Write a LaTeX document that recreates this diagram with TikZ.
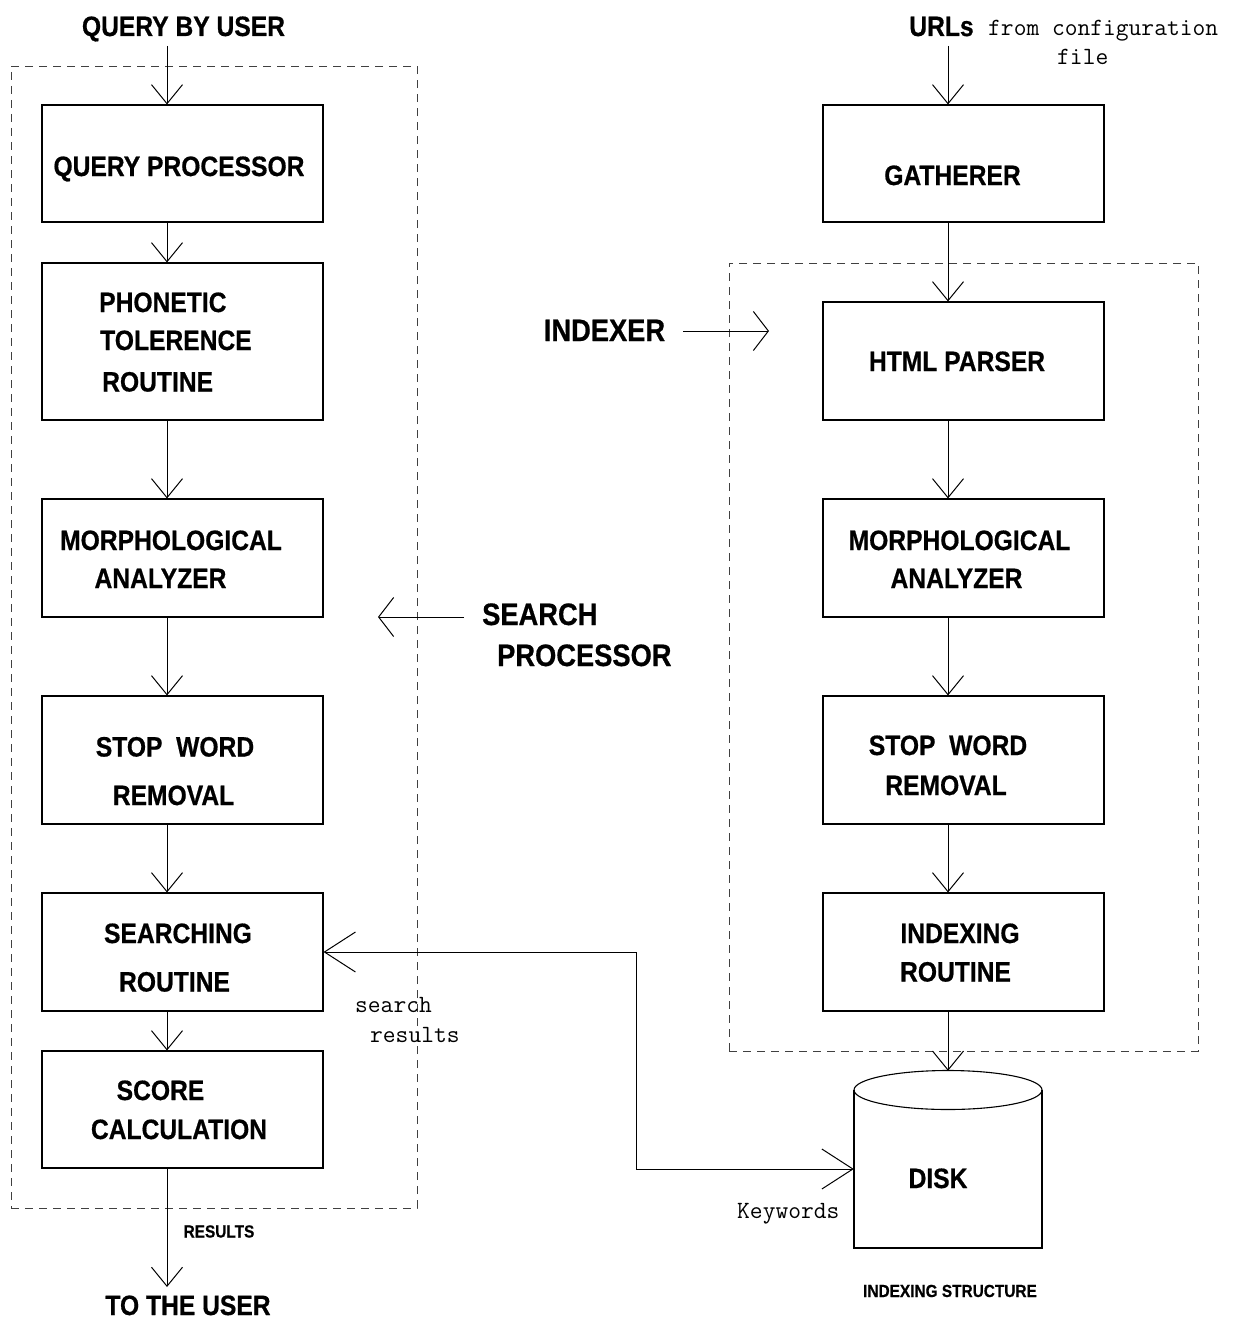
\documentclass[tikz,border=0pt]{standalone}
\usepackage{fontspec}
\usetikzlibrary{arrows.meta}
\newfontfamily\lblfam[FakeStretch=0.88,FakeBold=0.6]{Liberation Sans Bold}
\newcommand{\xLab}{\lblfam\fontsize{28}{34}\selectfont}
\newcommand{\xBig}{\lblfam\fontsize{31}{36}\selectfont}
\newcommand{\xSmall}{\lblfam\fontsize{17.5}{21}\selectfont}
\newcommand{\xMono}{\ttfamily\fontsize{24.8}{30}\selectfont}
\tikzset{
  box/.style={draw, line width=1.1pt, inner sep=0pt, minimum width=281pt},
  grp/.style={draw=black!75, line width=0.9pt, dash pattern=on 8pt off 6pt, inner sep=0pt},
  txt/.style={inner sep=0pt, anchor=base, font=\xLab},
  txtw/.style={inner sep=0pt, anchor=base west, font=\xLab},
  conn/.style={line width=1pt},
  vtip/.style={conn, -{Straight Barb[length=19pt,width=31pt]}},
  htip/.style={conn, -{Straight Barb[length=31pt,width=40pt]}},
  stip/.style={conn, -{Straight Barb[length=15pt,width=39pt]}},
}
\begin{document}
\begin{tikzpicture}[x=1pt,y=-1pt]
\useasboundingbox (0,0) rectangle (1244,1322);
\fill[white] (0,0) rectangle (1244,1322);

% group frames
\node[grp, minimum width=406pt, minimum height=1142pt] (searchgrp) at (214,637) {};
\node[grp, minimum width=469pt, minimum height=788pt] (indexgrp) at (963.5,657) {};

% column axes
\coordinate (colL) at (167,0);
\coordinate (colR) at (948,0);

% left column boxes
\node[box, minimum height=117pt] (qp) at (182.5,163.5) {};
\node[box, minimum height=157pt] (ph) at (182.5,341.5) {};
\node[box, minimum height=118pt] (ml) at (182.5,558) {};
\node[box, minimum height=128pt] (sl) at (182.5,760) {};
\node[box, minimum height=118pt] (sr) at (182.5,952) {};
\node[box, minimum height=117pt] (sc) at (182.5,1109.5) {};

% right column boxes
\node[box, minimum height=117pt] (ga) at (963.5,163.5) {};
\node[box, minimum height=118pt] (hp) at (963.5,361) {};
\node[box, minimum height=118pt] (mr) at (963.5,558) {};
\node[box, minimum height=128pt] (sw) at (963.5,760) {};
\node[box, minimum height=118pt] (ir) at (963.5,952) {};

% disk
\node[inner sep=0pt, minimum width=188pt, minimum height=177pt] (disk) at (948,1159.5) {};
\draw[line width=1.1pt] (854,1090) -- (854,1248) -- (1042,1248) -- (1042,1090);
\draw[line width=1.1pt] (948,1090) ellipse [x radius=94pt, y radius=19.5pt];

% box texts, left
\node[txt] (tqp) at (179,176) {QUERY PROCESSOR};
\node[txtw] (tph1) at (99,312) {PHONETIC};
\node[txtw] (tph2) at (100,350) {TOLERENCE};
\node[txtw] (tph3) at (102,391.5) {ROUTINE};
\node[txt] (tml1) at (171,550) {MORPHOLOGICAL};
\node[txt] (tml2) at (160.5,588) {ANALYZER};
\node[txt] (tsl1) at (175,756.5) {STOP\ \ WORD};
\node[txt] (tsl2) at (173.5,805) {REMOVAL};
\node[txt] (tsr1) at (178,943) {SEARCHING};
\node[txt] (tsr2) at (174.5,991.5) {ROUTINE};
\node[txt] (tsc1) at (160.5,1100) {SCORE};
\node[txt] (tsc2) at (179,1139) {CALCULATION};

% box texts, right
\node[txt] (tga) at (952.5,185) {GATHERER};
\node[txt] (thp) at (957,371) {HTML PARSER};
\node[txt] (tmr1) at (959.5,550) {MORPHOLOGICAL};
\node[txt] (tmr2) at (956.5,588) {ANALYZER};
\node[txt] (tsw1) at (948,755) {STOP\ \ WORD};
\node[txt] (tsw2) at (946,795) {REMOVAL};
\node[txt] (tir1) at (960,943) {INDEXING};
\node[txt] (tir2) at (955.5,981.5) {ROUTINE};
\node[txt] (tdisk) at (938,1188) {DISK};

% outer labels
\node[txt] (tqbu) at (183.5,36) {QUERY BY USER};
\node[txt] (ttu) at (188,1315) {TO THE USER};
\node[txt, font=\xSmall] (tres) at (219,1237.5) {RESULTS};
\node[txt, font=\xSmall] (tist) at (950,1297) {INDEXING STRUCTURE};
\node[txt] (turl) at (941.5,36) {URLs};
\node[inner sep=0pt, anchor=base west, font=\xMono] (tcfg1) at (988,36) {from configuration};
\node[inner sep=0pt, anchor=base west, font=\xMono] (tcfg2) at (1057,65) {file};
\node[txt, font=\xBig] (tidx) at (604.5,341) {INDEXER};
\node[txtw, font=\xBig] (tsp1) at (482,625) {SEARCH};
\node[txtw, font=\xBig] (tsp2) at (497,666) {PROCESSOR};
\node[inner sep=0pt, anchor=base west, font=\xMono] (tsrch1) at (355,1012) {search};
\node[inner sep=0pt, anchor=base west, font=\xMono] (tsrch2) at (370,1042) {results};
\node[inner sep=0pt, anchor=base west, font=\xMono] (tkw) at (737,1218) {Keywords};

% free ends
\coordinate (qin) at (167,46);
\coordinate (qout) at (167,1287);
\coordinate (uin) at (948,46);
\coordinate (idxs) at (683,331);
\coordinate (idxe) at (769,331);
\coordinate (sps) at (464,617);
\coordinate (spe) at (378,617);
\coordinate (jog) at (636,952);

% left column connectors
\draw[vtip] (qin) -- (qp.north -| colL);
\draw[vtip] (qp.south -| colL) -- (ph.north -| colL);
\draw[vtip] (ph.south -| colL) -- (ml.north -| colL);
\draw[vtip] (ml.south -| colL) -- (sl.north -| colL);
\draw[vtip] (sl.south -| colL) -- (sr.north -| colL);
\draw[vtip] (sr.south -| colL) -- (sc.north -| colL);
\draw[vtip] (sc.south -| colL) -- (qout);

% right column connectors
\draw[vtip] (uin) -- (ga.north -| colR);
\draw[vtip] (ga.south -| colR) -- (hp.north -| colR);
\draw[vtip] (hp.south -| colR) -- (mr.north -| colR);
\draw[vtip] (mr.south -| colR) -- (sw.north -| colR);
\draw[vtip] (sw.south -| colR) -- (ir.north -| colR);
\draw[vtip] (ir.south -| colR) -- (disk.north -| colR);

% side arrows
\draw[stip] (idxs) -- (idxe);
\draw[stip] (sps) -- (spe);

% search results / keywords link
\draw[conn, {Straight Barb[length=31pt,width=40pt]}-{Straight Barb[length=31pt,width=40pt]}]
  (sr.east) -- (jog) |- ([yshift=-9.5pt]disk.west);
\end{tikzpicture}
\end{document}
